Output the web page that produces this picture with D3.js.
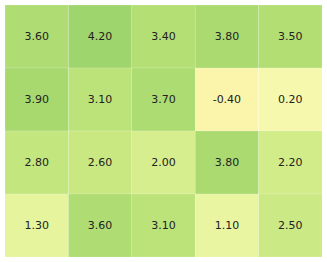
<!DOCTYPE html>
<html>
<head>
<meta charset="utf-8">
<script src="https://cdn.jsdelivr.net/npm/d3@7"></script>
<style>
  body { margin: 0; background: #fff; }
</style>
</head>
<body>
<div id="chart"></div>
<script>
// grid values, row by row (top to bottom)
var cols = ["c0", "c1", "c2", "c3", "c4"];
var rows = ["r0", "r1", "r2", "r3"];
var row0 = [3.6, 4.2, 3.4, 3.8, 3.5];
var row1 = [3.9, 3.1, 3.7, -0.4, 0.2];
var row2 = [2.8, 2.6, 2.0, 3.8, 2.2];
var row3 = [1.3, 3.6, 3.1, 1.1, 2.5];
var values = [row0, row1, row2, row3];

var width = 327, height = 262;
var margin = {top: 5, right: 5, bottom: 5, left: 5};

var svg = d3.select("#chart")
  .append("svg")
    .attr("width", width)
    .attr("height", height);

var x = d3.scaleBand().domain(cols).range([margin.left, width - margin.right]);
var y = d3.scaleBand().domain(rows).range([margin.top, height - margin.bottom]);

// diverging colours centred on zero
var color = d3.scaleSequential(d3.interpolateRdYlGn).domain([-10, 10]);

var cells = [];
values.forEach(function(r, i) {
  r.forEach(function(v, j) {
    cells.push({row: rows[i], col: cols[j], value: v});
  });
});

svg.selectAll("rect.cell")
  .data(cells)
  .enter()
  .append("rect")
    .attr("class", "cell")
    .attr("x", function(d) { return x(d.col); })
    .attr("y", function(d) { return y(d.row); })
    .attr("width", x.bandwidth())
    .attr("height", y.bandwidth())
    .attr("fill", function(d) { return color(d.value); })
    .attr("stroke", "#ffffff")
    .attr("stroke-opacity", 0.3)
    .attr("stroke-width", 0.5);

svg.selectAll("text.lbl")
  .data(cells)
  .enter()
  .append("text")
    .attr("class", "lbl")
    .attr("x", function(d) { return x(d.col) + x.bandwidth() / 2; })
    .attr("y", function(d) { return y(d.row) + y.bandwidth() / 2; })
    .attr("text-anchor", "middle")
    .attr("dominant-baseline", "central")
    .attr("font-family", "DejaVu Sans, sans-serif")
    .attr("font-size", "11px")
    .attr("fill", "#222222")
    .text(function(d) { return d.value.toFixed(2); });
</script>
</body>
</html>
